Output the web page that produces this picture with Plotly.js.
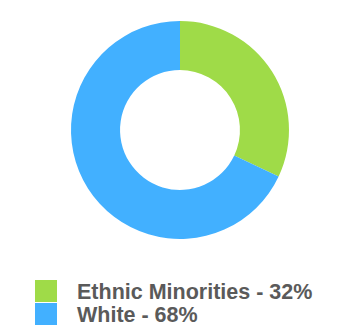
<!DOCTYPE html>
<html>
<head>
<meta charset="utf-8">
<script src="https://cdn.plot.ly/plotly-3.0.1.min.js"></script>
<style>html,body{margin:0;padding:0;background:#fff;}#chart{width:360px;height:330px;}</style>
</head>
<body>
<div id="chart"></div>
<script>
const labels = ["Ethnic Minorities", "White"];
const values = [32, 68];
const colors = ["#9FDB48", "#42B0FF"];

const W = 360, H = 330;
const px = x => x / W;
const py = y => 1 - y / H;

const shapes = [];
const annotations = [];
labels.forEach((lab, i) => {
  const top = 280 + i * 23;
  shapes.push({type: "rect", xref: "paper", yref: "paper",
    x0: px(35), x1: px(57), y0: py(top + 22), y1: py(top),
    fillcolor: colors[i], line: {width: 0}});
  annotations.push({xref: "paper", yref: "paper", x: px(75), y: py(top + 12),
    xanchor: "left", yanchor: "middle", showarrow: false,
    text: lab + " - " + values[i] + "%",
    font: {family: "Liberation Sans, Arial, sans-serif", size: 21.5, color: "#5a5a5a", weight: "bold"}});
});

Plotly.newPlot("chart", [{
  type: "pie",
  labels: labels,
  values: values,
  hole: 0.55,
  sort: false,
  direction: "clockwise",
  rotation: 0,
  marker: {colors: colors, line: {width: 0}},
  textinfo: "none",
  hoverinfo: "label+percent",
  domain: {x: [0, 1], y: [py(239), py(21)]}
}], {
  width: W, height: H,
  margin: {l: 0, r: 0, t: 0, b: 0},
  paper_bgcolor: "#fff",
  showlegend: false,
  shapes: shapes,
  annotations: annotations
}, {displayModeBar: false, staticPlot: true});
</script>
</body>
</html>
